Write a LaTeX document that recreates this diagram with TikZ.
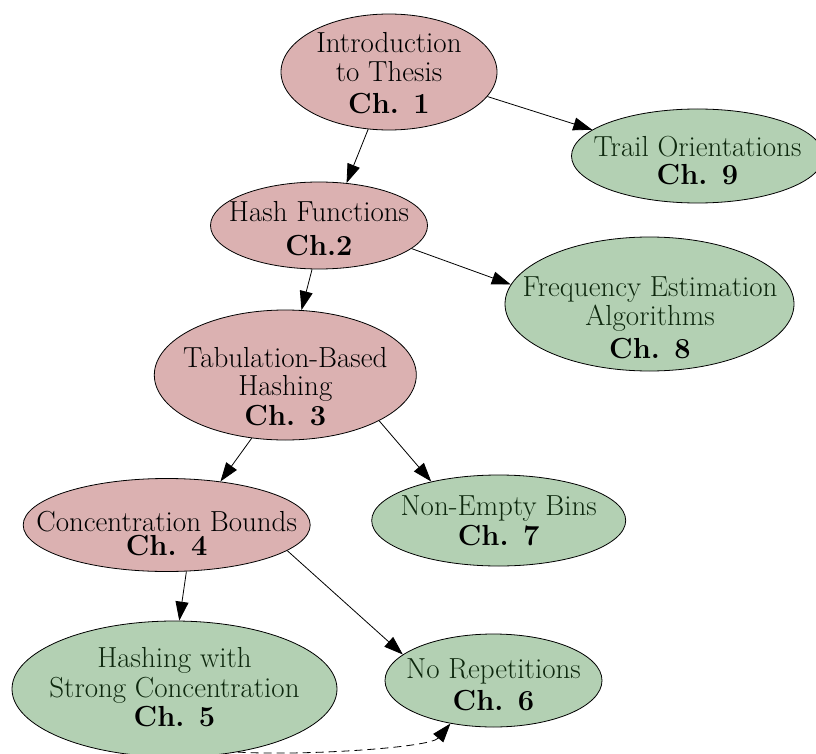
\documentclass[tikz,border=0pt]{standalone}
\usetikzlibrary{arrows.meta,shapes.geometric}
\definecolor{redfill}{RGB}{219,177,177}
\definecolor{greenfill}{RGB}{179,208,179}
\definecolor{greentext}{RGB}{14,40,14}
\begin{document}
\begin{tikzpicture}[x=1pt,y=-1pt,
  ell/.style={ellipse, draw=black, line width=0.8pt, inner sep=0pt},
  redn/.style={ell, fill=redfill},
  grn/.style={ell, fill=greenfill},
  lbl/.style={align=center, anchor=base, inner sep=0pt, font=\fontsize{29}{29}\selectfont},
  glbl/.style={lbl, text=greentext},
  edge/.style={line width=0.8pt, -{Triangle[length=19pt,width=13pt]}},
  dashedge/.style={edge, dash pattern=on 8pt off 5pt},
]
\useasboundingbox (0,0) rectangle (816,754);
% ellipses
\node[redn, minimum width=216pt, minimum height=116pt] (n1) at (389,72) {};
\node[grn,  minimum width=252pt, minimum height=94pt]  (n9) at (697.5,156) {};
\node[redn, minimum width=217pt, minimum height=87pt]  (n2) at (319,225.5) {};
\node[grn,  minimum width=289pt, minimum height=134pt] (n8) at (649.5,304) {};
\node[redn, minimum width=262pt, minimum height=130pt] (n3) at (285.3,375) {};
\node[grn,  minimum width=254pt, minimum height=91pt]  (n7) at (498.7,520.5) {};
\node[redn, minimum width=287pt, minimum height=93pt]  (n4) at (166.7,525) {};
\node[grn,  minimum width=325pt, minimum height=136pt] (n5) at (174.5,689) {};
\node[grn,  minimum width=217pt, minimum height=93pt]  (n6) at (493.5,680.5) {};
% labels
\node[lbl]  (t1) at (389,114) {Introduction\\to Thesis\\[3pt]\textbf{Ch. 1}};
\node[glbl] (t9) at (697.5,184.3) {Trail Orientations\\[-1.4pt]{\color{black}\textbf{Ch. 9}}};
\node[lbl]  (t2) at (319,255) {Hash Functions\\[5pt]\textbf{Ch.2}};
\node[glbl] (t8) at (650,358) {Frequency Estimation\\Algorithms\\[4pt]{\color{black}\textbf{Ch. 8}}};
\node[lbl]  (t3) at (285.3,425) {Tabulation-Based\\[-1pt]Hashing\\[1pt]\textbf{Ch. 3}};
\node[glbl] (t7) at (498.7,545) {Non-Empty Bins\\[1pt]{\color{black}\textbf{Ch. 7}}};
\node[lbl]  (t4) at (166.7,555) {Concentration Bounds\\[-5.7pt]\textbf{Ch. 4}};
\node[glbl] (t5) at (174.5,726.7) {Hashing with\\[1.5pt]Strong Concentration\\{\color{black}\textbf{Ch. 5}}};
\node[glbl] (t6) at (493.5,710) {No Repetitions\\[2.7pt]{\color{black}\textbf{Ch. 6}}};
% edges
\draw[edge] (n1.-110) -- (n2.57);
\draw[edge] (n1.-14) -- (n9.166);
\draw[edge] (n2.-14) -- (n8.172);
\draw[edge] (n2.-99) -- (n3.76);
\draw[edge] (n3.-118) -- (n4.39);
\draw[edge] (n3.-26) -- (n7.150);
\draw[edge] (n4.-67) -- (n5.86);
\draw[edge] (n4.-12) -- (n6.164);
\draw[dashedge] (n5.-45) .. controls (300,756) and (430,748) .. (n6.-135);
\end{tikzpicture}
\end{document}
